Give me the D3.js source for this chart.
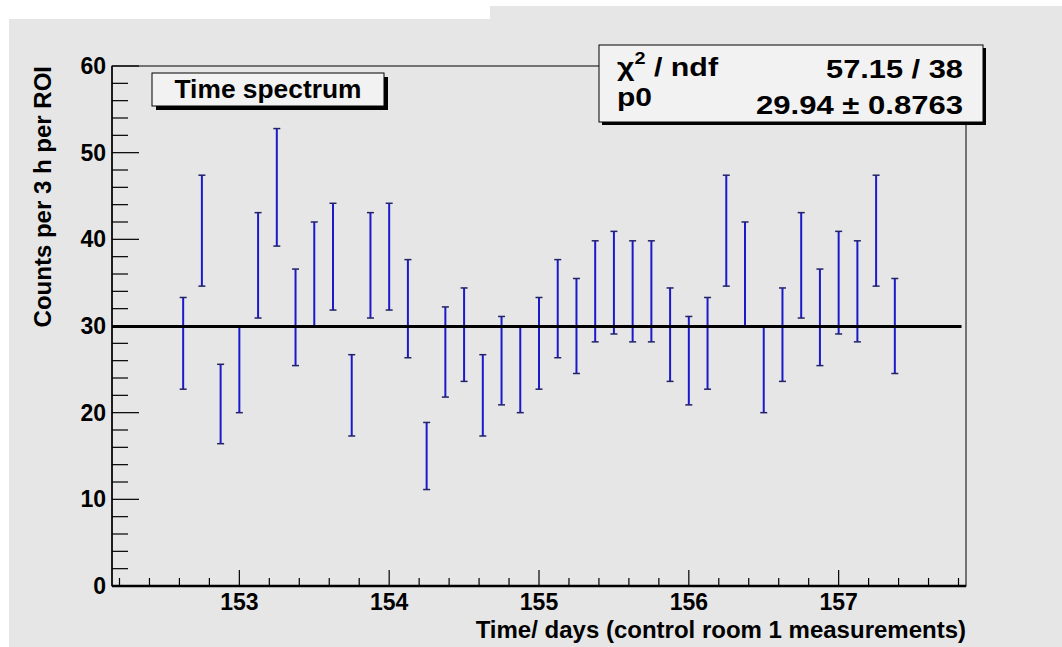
<!DOCTYPE html>
<html><head><meta charset="utf-8">
<script src="https://cdn.jsdelivr.net/npm/d3@7"></script>
<style>body{margin:0;background:#fff}svg{display:block}text{font-family:"Liberation Sans",Arial,Helvetica,sans-serif;font-weight:bold;fill:#000}</style>
</head><body><svg id="c" width="1062" height="647"></svg>
<script>
// Data
const times = [152.625,152.75,152.875,153.0,153.125,153.25,153.375,153.5,153.625,153.75,153.875,154.0,154.125,154.25,154.375,154.5,154.625,154.75,154.875,155.0,155.125,155.25,155.375,155.5,155.625,155.75,155.875,156.0,156.125,156.25,156.375,156.5,156.625,156.75,156.875,157.0,157.125,157.25,157.375];
const counts = [28,41,21,25,37,46,31,36,38,22,37,38,32,15,27,29,22,26,25,28,32,30,34,35,34,34,29,26,28,41,36,25,29,37,31,35,34,41,30];
const errors = [5.29,6.40,4.58,5.00,6.08,6.78,5.57,6.00,6.16,4.69,6.08,6.16,5.66,3.87,5.20,5.39,4.69,5.10,5.00,5.29,5.66,5.48,5.83,5.92,5.83,5.83,5.39,5.10,5.29,6.40,6.00,5.00,5.39,6.08,5.57,5.92,5.83,6.40,5.48];
const xTicks = [153,154,155,156,157];
const yTicks = [0,10,20,30,40,50,60];
const fitP0 = 29.94;
const fitRange = [152.15, 157.82];
const statsRows = [["χ² / ndf","57.15 / 38"],["p0","29.94 ± 0.8763"]];
const legendLabel = "Time spectrum";
const xTitle = "Time/ days (control room 1 measurements)";
const yTitle = "Counts per 3 h per ROI";

const svg = d3.select("#c");
const bg = "#e6e6e6";
svg.append("rect").attr("x",0).attr("y",0).attr("width",1062).attr("height",647).attr("fill","#fff");
svg.append("rect").attr("x",9).attr("y",19).attr("width",1053).attr("height",628).attr("fill",bg);
svg.append("rect").attr("x",490).attr("y",6).attr("width",572).attr("height",20).attr("fill",bg);

const L=112,R=966,T=66,B=586;
const x = d3.scaleLinear().domain([152.15,157.85]).range([L,R]);
const y = d3.scaleLinear().domain([0,60]).range([B,T]);

svg.append("rect").attr("x",L).attr("y",T).attr("width",R-L).attr("height",B-T)
  .attr("fill","none").attr("stroke","#000").attr("stroke-width",1);

// X axis
const xMinor = d3.range(152.2,157.85,0.2);
const gx = svg.append("g");
gx.selectAll("line").data(xMinor).join("line")
  .attr("x1",d=>x(d)).attr("x2",d=>x(d)).attr("y1",B).attr("y2",d=>Math.abs(d-Math.round(d))<1e-6?B-16:B-8)
  .attr("stroke","#000").attr("stroke-width",1.2);
gx.selectAll("text").data(xTicks).join("text")
  .attr("x",d=>x(d)).attr("y",B+24).attr("text-anchor","middle").attr("font-size",23).text(d=>d);
svg.append("line").attr("x1",L).attr("x2",R).attr("y1",B).attr("y2",B).attr("stroke","#000").attr("stroke-width",2.5);

// Y axis
const yMinor = d3.range(0,61,2);
const gy = svg.append("g");
gy.selectAll("line").data(yMinor).join("line")
  .attr("x1",L).attr("x2",d=>d%10===0?L+27:L+16).attr("y1",d=>y(d)).attr("y2",d=>y(d))
  .attr("stroke","#000").attr("stroke-width",1.2);
gy.selectAll("text").data(yTicks).join("text")
  .attr("x",L-6).attr("y",d=>y(d)+8).attr("text-anchor","end").attr("font-size",23).text(d=>d);
svg.append("line").attr("x1",L).attr("x2",L).attr("y1",T).attr("y2",B).attr("stroke","#000").attr("stroke-width",1.5);

// Axis titles
svg.append("text").attr("x",R).attr("y",638).attr("text-anchor","end").attr("font-size",24).text(xTitle);
svg.append("text").attr("transform",`translate(51,${T}) rotate(-90)`).attr("text-anchor","end").attr("font-size",24).text(yTitle);

// Error bars
const pts = times.map((t,i)=>({t,c:counts[i],e:errors[i]}));
const eb = svg.append("g").attr("stroke","#1a1acc");
eb.selectAll("line.v").data(pts).join("line").attr("class","v")
  .attr("x1",d=>x(d.t)).attr("x2",d=>x(d.t)).attr("y1",d=>y(d.c-d.e)).attr("y2",d=>y(d.c+d.e)).attr("stroke-width",2);
eb.selectAll("line.t").data(pts).join("line").attr("class","t")
  .attr("x1",d=>x(d.t)-3.5).attr("x2",d=>x(d.t)+3.5).attr("y1",d=>y(d.c+d.e)).attr("y2",d=>y(d.c+d.e)).attr("stroke","#222266").attr("stroke-width",1.5);
eb.selectAll("line.b").data(pts).join("line").attr("class","b")
  .attr("x1",d=>x(d.t)-3.5).attr("x2",d=>x(d.t)+3.5).attr("y1",d=>y(d.c-d.e)).attr("y2",d=>y(d.c-d.e)).attr("stroke","#222266").attr("stroke-width",1.5);

// Fit line
svg.append("line").attr("x1",x(fitRange[0])).attr("x2",x(fitRange[1])).attr("y1",y(fitP0)).attr("y2",y(fitP0))
  .attr("stroke","#000").attr("stroke-width",3);

// Legend box
const lb={x:152,y:73,w:232,h:33};
svg.append("rect").attr("x",lb.x+4).attr("y",lb.y+4).attr("width",lb.w).attr("height",lb.h).attr("fill","#000");
svg.append("rect").attr("x",lb.x).attr("y",lb.y).attr("width",lb.w).attr("height",lb.h).attr("fill","#f2f2f2").attr("stroke","#000").attr("stroke-width",1);
svg.append("text").attr("x",lb.x+lb.w/2).attr("y",lb.y+25).attr("text-anchor","middle").attr("font-size",25)
  .attr("textLength",187).attr("lengthAdjust","spacingAndGlyphs").text(legendLabel);

// Stats box
const sb={x:599,y:45,w:384,h:77};
svg.append("rect").attr("x",sb.x+3).attr("y",sb.y+3).attr("width",sb.w).attr("height",sb.h).attr("fill","#000");
svg.append("rect").attr("x",sb.x).attr("y",sb.y).attr("width",sb.w).attr("height",sb.h).attr("fill","#f2f2f2").attr("stroke","#000").attr("stroke-width",1);
const st = svg.append("g");
const r0 = st.append("text").attr("x",617).attr("y",76).attr("font-size",26).attr("textLength",101).attr("lengthAdjust","spacingAndGlyphs");
r0.append("tspan").text("χ");
r0.append("tspan").attr("font-size",17).attr("dy",-12).text("2");
r0.append("tspan").attr("dy",12).text(" / ndf");
st.append("text").attr("x",963).attr("y",78).attr("text-anchor","end").attr("font-size",25)
  .attr("textLength",137).attr("lengthAdjust","spacingAndGlyphs").text(statsRows[0][1]);
st.append("text").attr("x",617).attr("y",106).attr("font-size",26)
  .attr("textLength",35).attr("lengthAdjust","spacingAndGlyphs").text(statsRows[1][0]);
st.append("text").attr("x",963).attr("y",114).attr("text-anchor","end").attr("font-size",26)
  .attr("textLength",207).attr("lengthAdjust","spacingAndGlyphs").text(statsRows[1][1]);
</script></body></html>
